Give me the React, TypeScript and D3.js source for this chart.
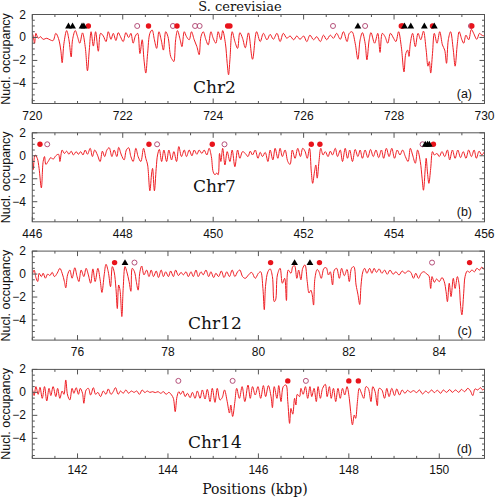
import React from "react";
import * as d3 from "d3";

// ---------- data (kbp, nucleosome occupancy) ----------
const chr2Occ: [number, number][] = [
  [720.00,0.36],[720.02,0.13],[720.05,-0.5],[720.08,0.36],[720.13,-0.07],[720.18,0.07],[720.24,-0.16],[720.32,-0.07],
  [720.39,-0.2],[720.46,-0.27],[720.52,0.36],[720.58,-0.1],[720.63,-1.1],[720.66,-2.2],[720.70,-0.5],[720.76,0.6],
  [720.81,-0.2],[720.86,-1.7],[720.89,-0.2],[720.95,0.6],[721.00,0.07],[721.05,-0.5],[721.11,0.4],[721.17,-0.8],
  [721.22,-2.9],[721.26,-1.1],[721.30,0.5],[721.35,-0.75],[721.40,0.5],[721.46,-1.2],[721.51,0.36],[721.57,0.13],
  [721.63,-0.36],[721.68,0.5],[721.74,-0.16],[721.79,0.36],[721.85,-0.27],[721.90,0.42],[721.95,0.07],[722.01,-0.36],
  [722.07,0.42],[722.13,0.0],[722.18,0.36],[722.23,-0.5],[722.28,0.13],[722.33,0.36],[722.38,-1.4],[722.43,-0.2],
  [722.47,-1.95],[722.51,-3.1],[722.55,-1.4],[722.60,0.36],[722.65,0.65],[722.70,-0.2],[722.75,-0.95],[722.80,0.5],
  [722.85,-0.2],[722.90,-1.1],[722.95,0.5],[723.00,0.07],[723.06,-1.65],[723.10,-1.95],[723.13,-2.1],[723.17,-0.2],
  [723.21,0.6],[723.27,-0.2],[723.31,-0.8],[723.36,0.5],[723.41,0.07],[723.47,-0.2],[723.52,0.5],[723.58,-0.2],
  [723.64,-0.8],[723.69,-1.5],[723.73,0.07],[723.78,0.5],[723.84,-0.2],[723.89,-0.65],[723.95,0.5],[724.00,-0.07],
  [724.06,-0.5],[724.11,0.5],[724.17,-0.2],[724.21,0.6],[724.27,-0.5],[724.31,-2.25],[724.34,-3.25],[724.37,-1.95],
  [724.42,0.5],[724.48,-0.35],[724.54,-0.95],[724.59,0.42],[724.65,-0.07],[724.71,-0.9],[724.78,0.4],[724.87,-1.9],
  [724.96,0.5],[725.04,-0.36],[725.11,0.36],[725.19,-0.2],[725.26,0.27],[725.33,-0.16],[725.41,0.36],[725.48,-0.36],
  [725.55,0.36],[725.63,-0.07],[725.70,0.13],[725.78,-0.2],[725.85,0.13],[725.92,-0.16],[726.00,0.13],[726.07,-0.36],
  [726.14,0.2],[726.22,-0.2],[726.29,0.07],[726.37,-0.36],[726.44,0.2],[726.51,-0.2],[726.59,0.2],[726.66,-0.07],
  [726.73,0.36],[726.81,-0.16],[726.88,0.5],[726.96,-0.36],[727.01,0.36],[727.07,0.5],[727.14,-0.5],[727.20,-1.9],
  [727.25,-0.2],[727.30,0.42],[727.36,-0.5],[727.40,-1.95],[727.45,-0.2],[727.49,0.42],[727.57,-0.5],[727.64,0.36],
  [727.69,-1.3],[727.74,0.36],[727.80,0.07],[727.86,-0.5],[727.92,0.36],[727.99,-0.07],[728.04,-0.36],[728.10,0.5],
  [728.16,-0.8],[728.22,-3.0],[728.26,-1.4],[728.30,-1.1],[728.33,-1.65],[728.36,-0.5],[728.41,0.36],[728.47,-0.8],
  [728.53,0.36],[728.59,-0.2],[728.65,0.55],[728.71,-1.1],[728.75,-2.5],[728.78,-2.1],[728.81,-3.1],[728.85,-1.4],
  [728.89,0.36],[728.95,-0.5],[729.01,0.5],[729.07,-0.65],[729.12,-1.1],[729.16,-2.25],[729.20,-0.2],[729.25,0.5],
  [729.31,-1.1],[729.35,-2.5],[729.40,-0.5],[729.44,0.5],[729.50,-0.2],[729.54,-0.5],[729.59,0.2],[729.65,-0.2],
  [729.71,0.7],[729.76,0.36],[729.83,-0.16],[729.89,0.36],[729.94,0.2],[730.00,0.13],
];

const chr7Occ: [number, number][] = [
  [446.00,-0.22],[446.02,-1.2],[446.06,0.07],[446.11,-0.22],[446.15,-1.1],[446.20,-2.8],[446.24,-0.5],[446.27,-0.07],
  [446.30,-0.75],[446.35,-0.5],[446.41,-0.16],[446.46,-0.3],[446.52,0.0],[446.58,0.13],[446.61,-0.5],[446.66,0.5],
  [446.71,0.2],[446.76,0.4],[446.81,0.13],[446.86,0.4],[446.91,0.07],[446.97,0.36],[447.02,0.13],[447.07,0.36],
  [447.12,0.07],[447.17,0.5],[447.22,0.13],[447.28,0.65],[447.33,-0.07],[447.38,0.5],[447.44,0.07],[447.50,-0.5],
  [447.55,0.4],[447.60,-0.07],[447.65,0.5],[447.70,0.7],[447.76,-0.07],[447.81,0.5],[447.87,-0.07],[447.91,0.73],
  [447.97,0.07],[448.03,-0.36],[448.08,0.5],[448.13,0.7],[448.18,-0.07],[448.23,-0.5],[448.29,0.65],[448.34,-0.07],
  [448.40,-0.5],[448.46,0.65],[448.51,-0.22],[448.55,-0.8],[448.60,-3.05],[448.64,-1.5],[448.66,-1.1],[448.70,-3.05],
  [448.74,-1.1],[448.77,0.07],[448.81,0.55],[448.86,-0.5],[448.91,0.5],[448.97,-0.5],[449.02,0.5],[449.08,-0.36],
  [449.13,0.36],[449.19,-0.5],[449.24,0.8],[449.30,-0.07],[449.36,0.5],[449.41,-0.07],[449.47,0.5],[449.53,0.0],
  [449.58,0.5],[449.64,0.13],[449.69,0.5],[449.75,0.2],[449.80,0.5],[449.86,0.07],[449.91,0.65],[449.96,-0.07],
  [450.00,-1.4],[450.04,-1.65],[450.08,-1.5],[450.11,-1.65],[450.14,0.2],[450.17,-0.5],[450.21,0.65],[450.26,-0.8],
  [450.31,0.36],[450.37,-0.5],[450.42,0.5],[450.48,-0.95],[450.54,0.5],[450.59,-0.22],[450.65,0.36],[450.71,0.2],
  [450.77,-0.07],[450.82,0.4],[450.87,0.07],[450.93,0.5],[450.99,-0.22],[451.04,0.3],[451.09,-0.07],[451.15,0.3],
  [451.21,-0.5],[451.26,0.5],[451.32,-0.36],[451.37,0.65],[451.43,-0.22],[451.48,0.65],[451.53,-0.07],[451.59,0.5],
  [451.65,-0.5],[451.70,-0.75],[451.75,0.5],[451.81,-0.22],[451.87,0.65],[451.93,-0.07],[451.98,0.65],[452.03,0.4],
  [452.08,-0.22],[452.13,0.65],[452.17,-1.4],[452.20,-2.4],[452.24,-1.4],[452.27,-0.8],[452.30,-1.95],[452.34,-0.5],
  [452.38,0.65],[452.43,0.07],[452.48,0.36],[452.54,-0.07],[452.59,0.4],[452.64,0.07],[452.70,0.65],[452.75,-0.07],
  [452.81,0.5],[452.86,-0.5],[452.92,0.65],[452.97,-0.22],[453.02,0.5],[453.08,-0.5],[453.14,0.55],[453.20,-0.07],
  [453.25,0.5],[453.30,-0.22],[453.36,0.5],[453.42,-0.16],[453.48,0.55],[453.54,-0.07],[453.60,0.5],[453.66,-0.16],
  [453.72,0.5],[453.77,-0.22],[453.83,0.65],[453.89,-0.07],[453.95,0.65],[454.01,-0.22],[454.07,0.5],[454.13,0.07],
  [454.19,0.5],[454.25,-0.07],[454.31,-0.5],[454.36,0.65],[454.41,0.07],[454.47,-0.65],[454.52,0.5],[454.58,-0.5],
  [454.62,-1.95],[454.65,-3.0],[454.69,-1.1],[454.71,-0.22],[454.74,-1.5],[454.77,-2.4],[454.81,-1.1],[454.85,0.36],
  [454.89,0.07],[454.95,0.2],[455.00,-0.07],[455.06,0.36],[455.12,-0.07],[455.18,0.5],[455.23,-0.36],[455.29,0.5],
  [455.35,-0.22],[455.41,0.5],[455.47,-0.16],[455.53,0.36],[455.59,-0.22],[455.65,0.5],[455.71,-0.07],[455.77,0.5],
  [455.82,-0.22],[455.88,0.4],[455.94,0.07],[456.00,0.36],
];

const chr12Occ: [number, number][] = [
  [75.00,0.0],[75.04,0.35],[75.08,-0.3],[75.12,-0.65],[75.15,0.07],[75.20,-0.22],[75.24,0.07],[75.29,-0.36],
  [75.34,0.0],[75.39,-0.13],[75.44,0.15],[75.49,-0.22],[75.55,0.07],[75.61,0.5],[75.66,0.07],[75.71,-0.65],
  [75.74,-1.2],[75.78,-0.07],[75.83,0.35],[75.88,-0.36],[75.94,0.55],[75.99,-0.22],[76.03,-0.65],[76.08,0.35],
  [76.14,-0.22],[76.19,0.5],[76.24,-0.07],[76.29,-0.8],[76.34,0.45],[76.39,-0.65],[76.45,0.5],[76.50,-0.5],
  [76.54,-1.6],[76.59,-0.07],[76.63,0.85],[76.68,0.2],[76.73,-1.1],[76.77,0.65],[76.81,0.2],[76.85,-1.25],
  [76.88,-3.0],[76.91,-0.95],[76.94,-1.4],[76.98,-3.7],[77.01,-1.25],[77.05,0.65],[77.09,0.2],[77.14,-0.65],
  [77.18,-1.5],[77.21,0.5],[77.26,0.2],[77.30,-0.65],[77.34,-1.4],[77.38,0.2],[77.42,0.7],[77.47,-0.07],
  [77.53,0.35],[77.58,-0.22],[77.63,0.35],[77.68,-0.22],[77.74,0.27],[77.79,-0.3],[77.85,0.35],[77.90,-0.22],
  [77.95,0.2],[78.01,-0.22],[78.06,0.27],[78.12,-0.22],[78.17,0.35],[78.23,-0.13],[78.29,0.15],[78.34,-0.07],
  [78.40,0.2],[78.45,-0.22],[78.51,0.2],[78.56,-0.22],[78.62,0.35],[78.67,-0.22],[78.73,0.2],[78.78,-0.07],
  [78.84,0.35],[78.90,-0.22],[78.95,0.2],[79.01,-0.3],[79.06,0.07],[79.12,-0.22],[79.18,0.27],[79.24,-0.3],
  [79.30,0.2],[79.36,-0.22],[79.42,0.35],[79.48,-0.22],[79.54,0.2],[79.59,0.35],[79.65,-0.22],[79.71,-0.37],
  [79.78,-0.08],[79.85,0.15],[79.93,-0.37],[80.00,0.07],[80.05,0.2],[80.10,-1.25],[80.13,-3.1],[80.16,-0.95],
  [80.21,0.2],[80.26,0.45],[80.31,-0.22],[80.35,-2.4],[80.38,-2.25],[80.42,-0.08],[80.48,0.5],[80.53,-0.8],
  [80.58,-0.37],[80.62,-2.3],[80.66,0.35],[80.72,0.07],[80.76,0.65],[80.80,0.73],[80.85,-0.37],[80.89,0.35],
  [80.94,-0.5],[80.98,0.5],[81.03,0.8],[81.08,-0.65],[81.12,-1.65],[81.16,-1.4],[81.19,-1.8],[81.22,-2.7],
  [81.25,-0.37],[81.30,0.4],[81.34,0.2],[81.39,-0.37],[81.45,0.5],[81.50,0.55],[81.55,-0.08],[81.59,0.2],
  [81.64,-0.95],[81.68,0.35],[81.73,0.5],[81.79,-0.37],[81.84,0.5],[81.90,-0.14],[81.96,0.4],[82.01,-0.65],
  [82.06,0.5],[82.11,0.65],[82.16,-0.95],[82.20,-1.75],[82.24,-2.65],[82.27,-0.95],[82.31,0.2],[82.35,0.5],
  [82.40,0.07],[82.46,0.5],[82.51,0.07],[82.56,0.5],[82.61,0.15],[82.67,0.45],[82.73,0.07],[82.79,0.35],
  [82.85,-0.02],[82.91,0.35],[82.98,-0.02],[83.04,0.2],[83.11,-0.08],[83.18,0.27],[83.24,0.07],[83.31,0.27],
  [83.37,0.15],[83.43,-0.37],[83.48,0.07],[83.54,-0.37],[83.60,0.07],[83.66,0.2],[83.73,-0.02],[83.77,-0.14],
  [83.81,-1.25],[83.84,-0.22],[83.89,-0.72],[83.94,-0.43],[84.00,-0.66],[84.06,-0.3],[84.11,-0.66],[84.15,-1.53],
  [84.18,-2.4],[84.22,-0.8],[84.26,-1.96],[84.31,-0.37],[84.35,-1.25],[84.40,-0.22],[84.44,-0.95],[84.47,-2.7],
  [84.50,-3.55],[84.54,-1.67],[84.57,-0.22],[84.62,0.27],[84.67,0.15],[84.72,0.35],[84.78,0.2],[84.83,0.5],
  [84.89,0.35],[84.94,0.6],[85.00,0.35],
];

const chr14Occ: [number, number][] = [
  [141.00,0.35],[141.04,-0.28],[141.08,0.5],[141.13,-0.17],[141.17,0.44],[141.22,-0.52],[141.27,0.5],[141.32,-0.75],
  [141.37,0.35],[141.41,-0.28],[141.46,0.5],[141.52,-0.37],[141.56,0.35],[141.61,-0.52],[141.66,0.12],[141.70,-0.17],
  [141.74,1.08],[141.78,-0.23],[141.83,-0.66],[141.88,0.35],[141.92,-0.08],[141.97,0.41],[142.02,-0.17],[142.06,0.35],
  [142.11,-0.08],[142.14,-0.95],[142.19,0.21],[142.24,0.35],[142.29,-0.23],[142.35,0.41],[142.40,-0.17],[142.45,0.0],
  [142.51,-0.37],[142.57,0.12],[142.63,-0.17],[142.68,0.3],[142.74,-0.17],[142.79,0.06],[142.84,0.41],[142.90,-0.17],
  [142.95,0.12],[143.01,-0.08],[143.07,0.21],[143.13,-0.08],[143.19,0.12],[143.25,0.0],[143.31,0.12],[143.37,-0.17],
  [143.43,0.21],[143.49,-0.02],[143.54,0.12],[143.60,0.0],[143.66,0.06],[143.72,-0.02],[143.78,0.06],[143.84,-0.08],
  [143.90,0.06],[143.96,-0.17],[144.02,0.0],[144.08,-0.23],[144.12,-0.52],[144.16,-1.68],[144.20,-0.37],[144.24,0.06],
  [144.28,-0.17],[144.33,0.12],[144.38,-0.37],[144.43,-0.08],[144.49,-0.46],[144.54,0.0],[144.60,-0.52],[144.65,0.12],
  [144.71,-0.52],[144.76,0.21],[144.82,-0.58],[144.87,0.26],[144.93,-0.8],[144.98,0.35],[145.04,-0.87],[145.09,0.35],
  [145.15,-0.66],[145.20,-0.46],[145.25,0.21],[145.31,-0.8],[145.36,-1.8],[145.39,-1.1],[145.43,-2.1],[145.48,-0.8],
  [145.52,0.35],[145.58,-0.52],[145.64,0.5],[145.70,-0.8],[145.77,0.64],[145.82,-0.52],[145.87,0.5],[145.93,-0.23],
  [145.99,0.5],[146.05,-0.52],[146.11,0.59],[146.16,-0.37],[146.22,0.59],[146.28,-0.37],[146.31,-1.33],[146.35,0.5],
  [146.41,-0.52],[146.45,0.59],[146.50,-0.8],[146.55,0.5],[146.61,0.64],[146.65,-0.8],[146.69,-2.7],[146.72,-1.4],
  [146.76,-1.9],[146.80,-0.52],[146.83,-1.1],[146.86,-0.17],[146.91,-0.37],[146.94,0.35],[146.99,-0.17],[147.04,0.5],
  [147.09,-0.52],[147.14,0.5],[147.18,-0.37],[147.23,0.35],[147.28,-0.8],[147.32,0.5],[147.37,-0.52],[147.42,0.35],
  [147.48,0.7],[147.52,-0.37],[147.57,0.5],[147.61,-0.52],[147.66,0.35],[147.71,-0.8],[147.76,0.35],[147.81,-0.52],
  [147.86,0.35],[147.91,-0.23],[147.96,0.5],[148.01,-0.52],[148.04,-1.68],[148.08,-2.83],[148.12,-1.97],[148.15,-2.26],
  [148.19,-0.8],[148.23,0.35],[148.28,-0.08],[148.33,-0.52],[148.38,0.5],[148.43,0.35],[148.49,-0.8],[148.53,0.5],
  [148.58,0.06],[148.63,-1.16],[148.67,0.35],[148.73,0.21],[148.79,-0.52],[148.84,0.35],[148.89,-0.37],[148.95,0.35],
  [149.01,-0.28],[149.06,0.3],[149.12,-0.23],[149.18,0.21],[149.24,-0.08],[149.30,0.18],[149.36,0.0],[149.43,0.15],
  [149.50,-0.02],[149.56,0.21],[149.63,-0.14],[149.70,0.12],[149.76,-0.05],[149.83,0.21],[149.89,-0.02],[149.96,0.18],
  [150.03,-0.08],[150.09,0.21],[150.16,0.0],[150.23,0.24],[150.29,0.0],[150.36,0.21],[150.43,0.0],[150.49,0.26],
  [150.56,0.06],[150.63,0.35],[150.69,0.12],[150.74,-0.28],[150.79,0.3],[150.85,0.21],[150.91,0.41],[150.96,0.21],
  [151.00,0.35],
];

// markers (kbp)
const chr2Filled = [721.24, 722.57, 723.2, 724.32, 724.37, 728.16, 728.19, 728.85, 729.72];
const chr2Open = [722.32, 723.11, 723.6, 723.7, 726.65, 727.36, 729.7];
const chr2Tri = [720.8, 720.89, 721.1, 721.14, 727.2, 728.23, 728.37, 728.67, 728.89];

const chr7Filled = [446.17, 448.58, 449.98, 452.17, 452.36, 454.87];
const chr7Open = [446.33, 448.76, 450.25, 454.63];
const chr7Tri = [454.69, 454.74, 454.78];

const chr12Filled = [76.82, 80.27, 81.35, 84.67];
const chr12Open = [77.26, 83.84];
const chr12Tri = [77.05, 80.8, 81.14];

const chr14Filled = [146.65, 148.0, 148.21];
const chr14Open = [144.23, 145.43, 147.05];
const chr14Tri: number[] = [];

const chrNames = ["Chr2", "Chr7", "Chr12", "Chr14"];
const panelTags = ["(a)", "(b)", "(c)", "(d)"];
const xDomains: [number, number][] = [[720, 730], [446, 456], [75, 85], [141, 151]];
const yMajorTicks = [2, 0, -2, -4];
const markerLevel = 1;

const occupancies = [chr2Occ, chr7Occ, chr12Occ, chr14Occ];
const filledSets = [chr2Filled, chr7Filled, chr12Filled, chr14Filled];
const openSets = [chr2Open, chr7Open, chr12Open, chr14Open];
const triSets = [chr2Tri, chr7Tri, chr12Tri, chr14Tri];

// ---------- layout ----------
const W = 495, H = 500;
const left = 32.3, right = 484.5;
const panelTops = [14.5, 132.8, 251.1, 369.4];
const panelH = 89;
const chrPos = [[193, 93], [193, 192], [188, 329], [188, 447.5]];
const tagBase = [98, 216, 335, 453];

const LINE = "#ee1d23";
const FILL = "#e8141c";
const OPEN = "#b5507a";
const FRAME = "#555";
const SANS = "Liberation Sans, Arial, sans-serif";
const SERIF = "DejaVu Serif, serif";

function Panel({ i }: { i: number }) {
  const top = panelTops[i];
  const [d0, d1] = xDomains[i];
  const x = d3.scaleLinear().domain([d0, d1]).range([left, right]);
  const y = d3.scaleLinear().domain([2, -5.75]).range([top, top + panelH]);
  const line = d3
    .line<[number, number]>()
    .x(d => x(d[0]))
    .y(d => y(d[1]))
    .curve(d3.curveCatmullRom.alpha(0.5));
  const xMajor = d3.range(d0 + (d0 % 2 === 0 ? 0 : 1), d1 + 0.001, 2);
  const xMinor = d3.range(d0, d1 + 0.001, 0.5).filter(v => !xMajor.includes(v));
  const yMinor = d3.range(-5.5, 2, 0.5).filter(v => Math.abs(v % 2) > 0.01);
  const bottom = top + panelH;
  const tri = d3.symbol().type(d3.symbolTriangle).size(20)();
  const clipId = `clip${i}`;
  return (
    <g>
      <defs>
        <clipPath id={clipId}>
          <rect x={left} y={top} width={right - left} height={panelH} />
        </clipPath>
      </defs>
      <path d={line(occupancies[i]) || ""} fill="none" stroke={LINE} strokeWidth={1} strokeLinejoin="round" clipPath={`url(#${clipId})`} />
      {openSets[i].map((v, k) => (
        <circle key={"o" + k} cx={x(v)} cy={y(markerLevel)} r={2.5} fill="none" stroke={OPEN} strokeWidth={1} />
      ))}
      {filledSets[i].map((v, k) => (
        <circle key={"f" + k} cx={x(v)} cy={y(markerLevel)} r={2.7} fill={FILL} />
      ))}
      {triSets[i].map((v, k) => (
        <path key={"t" + k} d={tri || ""} transform={`translate(${x(v)},${y(markerLevel) + 0.5})`} fill="#000" />
      ))}
      <rect x={left} y={top} width={right - left} height={panelH} fill="none" stroke={FRAME} strokeWidth={1} />
      {xMajor.map(v => (
        <g key={"xm" + v}>
          <line x1={x(v)} x2={x(v)} y1={bottom} y2={bottom - 5} stroke={FRAME} />
          <line x1={x(v)} x2={x(v)} y1={top} y2={top + 5} stroke={FRAME} />
          <text x={x(v)} y={bottom + 16} textAnchor="middle" fontSize={12} fontFamily={SANS} fill="#111">{v}</text>
        </g>
      ))}
      {xMinor.map(v => (
        <g key={"xn" + v}>
          <line x1={x(v)} x2={x(v)} y1={bottom} y2={bottom - 2.5} stroke={FRAME} />
          <line x1={x(v)} x2={x(v)} y1={top} y2={top + 2.5} stroke={FRAME} />
        </g>
      ))}
      {yMajorTicks.map(v => (
        <g key={"ym" + v}>
          <line x1={left} x2={left + 5} y1={y(v)} y2={y(v)} stroke={FRAME} />
          <line x1={right} x2={right - 5} y1={y(v)} y2={y(v)} stroke={FRAME} />
          <text x={26} y={y(v) + 4} textAnchor="end" fontSize={12} fontFamily={SANS} fill="#111">{v < 0 ? "\u2212" + Math.abs(v) : v}</text>
        </g>
      ))}
      {yMinor.map(v => (
        <g key={"yn" + v}>
          <line x1={left} x2={left + 2.5} y1={y(v)} y2={y(v)} stroke={FRAME} />
          <line x1={right} x2={right - 2.5} y1={y(v)} y2={y(v)} stroke={FRAME} />
        </g>
      ))}
      <text transform={`translate(10,${top + panelH / 2}) rotate(-90)`} textAnchor="middle" fontSize={12.5} fontFamily={SANS} fill="#111">Nucl. occupancy</text>
      <text x={chrPos[i][0]} y={chrPos[i][1]} fontSize={17} fontFamily={SERIF} fill="#111">{chrNames[i]}</text>
      <text x={472} y={tagBase[i]} textAnchor="end" fontSize={12.5} fontFamily={SANS} fill="#111">{panelTags[i]}</text>
    </g>
  );
}

export default function App() {
  return (
    <svg width={W} height={H} style={{ position: "absolute", left: 0, top: 0, background: "#fff" }}>
      <rect width={W} height={H} fill="#fff" />
      <text x={240} y={11} textAnchor="middle" fontSize={13} fontFamily={SERIF} fill="#111">S. cerevisiae</text>
      {[0, 1, 2, 3].map(i => <Panel key={i} i={i} />)}
      <text x={255} y={494} textAnchor="middle" fontSize={14} fontFamily={SERIF} fill="#111">Positions (kbp)</text>
    </svg>
  );
}
